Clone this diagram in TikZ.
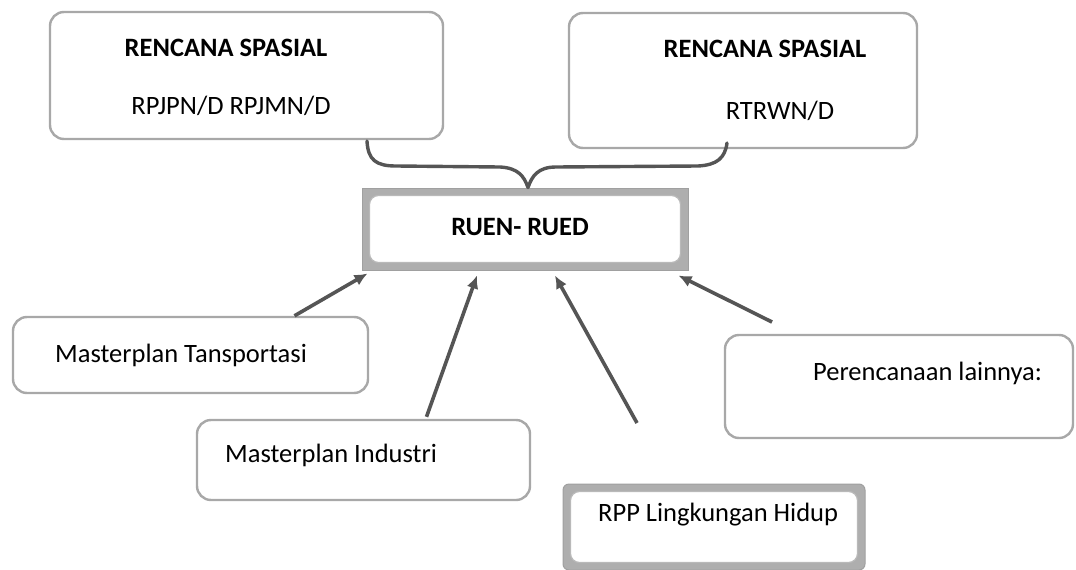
\documentclass[tikz,border=0pt]{standalone}
\usepackage{fontspec}
\setmainfont{Carlito}
\usetikzlibrary{arrows.meta,calc}
\definecolor{boxgray}{HTML}{A8A8A8}
\definecolor{framegray}{HTML}{A0A0A0}
\definecolor{arrowgray}{HTML}{555555}
\newcommand\tsz{\fontsize{26.5}{31}\selectfont}
\begin{document}
\begin{tikzpicture}[x=1pt,y=-1pt,
  roundbox/.style={draw=boxgray, line width=2.4pt, rounded corners=14pt, fill=white, inner sep=0pt},
  framebox/.style={draw=framegray, fill=framegray!85, line width=1pt, inner sep=0pt},
  innerbox/.style={draw=boxgray!80, fill=white, line width=1.2pt, rounded corners=9pt},
  lbl/.style={inner sep=0pt, font=\tsz},
  blbl/.style={inner sep=0pt, font=\tsz\bfseries},
  conn/.style={draw=arrowgray, line width=3.6pt, -{Latex[length=13pt,width=12pt]}},
  bracestyle/.style={draw=arrowgray, line width=3.4pt, line cap=round, line join=round}]
\useasboundingbox (0,0) rectangle (1076,570);
\fill[white] (0,0) rectangle (1076,570);

% top boxes
\node[roundbox, minimum width=393pt, minimum height=127pt] (b1) at (246.5,75.5) {};
\node[blbl] (b1t) at (226,48) {RENCANA SPASIAL};
\node[lbl] (b1s) at (231,106) {RPJPN/D RPJMN/D};

\node[roundbox, minimum width=348pt, minimum height=135pt] (b2) at (743,80.5) {};
\node[blbl] (b2t) at (765,49) {RENCANA SPASIAL};
\node[lbl] (b2s) at (780,111) {RTRWN/D};

% central box
\node[framebox, minimum width=326pt, minimum height=82pt] (ruen) at (525,229) {};
\draw[innerbox] ($(ruen.north west)+(8pt,-8pt)$) rectangle ($(ruen.south east)+(-8pt,8pt)$);
\node[blbl] (ruent) at (520,227) {RUEN- RUED};

% brace
\coordinate (bl) at (367,141);
\coordinate (br) at (727,143);
\draw[bracestyle] (bl) .. controls (368,160) and (376,166) .. (396,166)
  -- (500,167) .. controls (518,168) and (524,176) .. ([xshift=3pt]ruen.north)
  .. controls (532,176) and (538,167) .. (556,167)
  -- (698,166) .. controls (717,165) and (725,158) .. (br);

% lower boxes
\node[roundbox, minimum width=355pt, minimum height=76pt] (trans) at (190.5,355) {};
\node[lbl, anchor=west] (transt) at (55,355) {Masterplan Tansportasi};

\node[roundbox, minimum width=333pt, minimum height=80pt] (ind) at (363.5,460) {};
\node[lbl, anchor=west] (indt) at (225,455) {Masterplan Industri};

\node[framebox, rounded corners=6pt, minimum width=302pt, minimum height=86pt] (rpp) at (714,527) {};
\draw[innerbox] ($(rpp.north west)+(8pt,-8pt)$) rectangle ($(rpp.south east)+(-8pt,8pt)$);
\node[lbl, anchor=west] (rppt) at (598,515) {RPP Lingkungan Hidup};

\node[roundbox, minimum width=348pt, minimum height=103pt] (per) at (899,386.5) {};
\node[lbl, anchor=west] (pert) at (813,373) {Perencanaan lainnya:};

% arrows
\coordinate (a3s) at (637,423);
\coordinate (a4s) at (772,322);
\draw[conn] ([xshift=104pt]trans.north) -- ([xshift=6pt,yshift=-3pt]ruen.south west);
\draw[conn] ([xshift=63pt,yshift=2pt]ind.north) -- ([xshift=-48pt,yshift=-5pt]ruen.south);
\draw[conn] (a3s) -- ([xshift=30pt,yshift=-5pt]ruen.south);
\draw[conn] (a4s) -- ([xshift=-10pt,yshift=-5pt]ruen.south east);
\end{tikzpicture}
\end{document}
